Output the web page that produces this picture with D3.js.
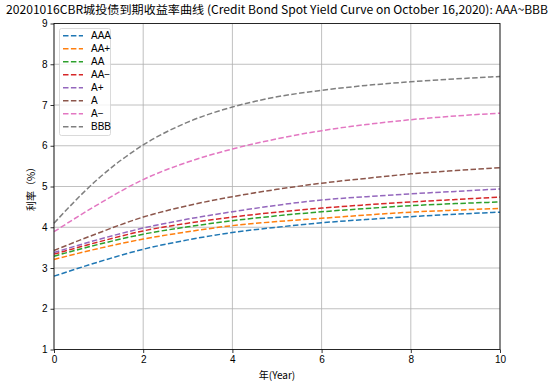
<!DOCTYPE html>
<html>
<head>
<meta charset="utf-8">
<script src="https://cdn.jsdelivr.net/npm/d3@7"></script>
<style>
body {margin: 0; background: #fff;}
</style>
</head>
<body>
<svg id="chart" width="554" height="385"></svg>
<script>
/*** Data ***/
var years = [0, 1, 2, 3, 4, 5, 6, 7, 8, 9, 10]
var ratings = ["AAA", "AA+", "AA", "AA-", "A+", "A", "A-", "BBB"]
var AAA  = [2.80, 3.15, 3.46, 3.69, 3.87, 4.00, 4.11, 4.19, 4.26, 4.32, 4.37]
var AAp  = [3.21, 3.48, 3.71, 3.89, 4.04, 4.14, 4.22, 4.30, 4.37, 4.42, 4.46]
var AA   = [3.29, 3.58, 3.83, 4.01, 4.16, 4.28, 4.38, 4.46, 4.53, 4.58, 4.62]
var AAm  = [3.34, 3.64, 3.91, 4.10, 4.25, 4.37, 4.47, 4.55, 4.62, 4.68, 4.74]
var Ap   = [3.38, 3.70, 3.98, 4.20, 4.38, 4.54, 4.67, 4.75, 4.82, 4.88, 4.94]
var A    = [3.43, 3.86, 4.25, 4.53, 4.75, 4.93, 5.08, 5.20, 5.31, 5.39, 5.46]
var Am   = [3.89, 4.57, 5.17, 5.60, 5.92, 6.17, 6.37, 6.52, 6.64, 6.73, 6.80]
var BBB  = [4.10, 5.20, 6.02, 6.58, 6.95, 7.20, 7.36, 7.48, 7.57, 7.64, 7.70]
var series = [AAA, AAp, AA, AAm, Ap, A, Am, BBB]
var xTicks = [0, 2, 4, 6, 8, 10]
var yTicks = [1, 2, 3, 4, 5, 6, 7, 8, 9]
var colors = ["#1f77b4", "#ff7f0e", "#2ca02c", "#d62728", "#9467bd", "#8c564b", "#e377c2", "#7f7f7f"]

var title = "20201016CBR城投债到期收益率曲线 (Credit Bond Spot Yield Curve on October 16,2020): AAA~BBB"

var cjk = "'Noto Sans CJK SC', sans-serif"
var lat = "'Liberation Sans', sans-serif"

/*** Draw ***/
var svg = d3.select("#chart")
var m = {l: 54, r: 500, t: 23.5, b: 349.5}

var x = d3.scaleLinear().domain([0, 10]).range([m.l, m.r])
var y = d3.scaleLinear().domain([1, 9]).range([m.b, m.t])

// grid
var g = svg.append("g")
g.selectAll(".vg").data(xTicks).enter().append("line")
 .attr("x1", d => x(d)).attr("x2", d => x(d))
 .attr("y1", m.t).attr("y2", m.b)
 .attr("stroke", "#b0b0b0").attr("stroke-width", 0.8)
g.selectAll(".hg").data(yTicks).enter().append("line")
 .attr("x1", m.l).attr("x2", m.r)
 .attr("y1", d => y(d)).attr("y2", d => y(d))
 .attr("stroke", "#b0b0b0").attr("stroke-width", 0.8)

// curves
var line = d3.line()
             .x((d, i) => x(years[i]))
             .y(d => y(d))
             .curve(d3.curveMonotoneX)
svg.append("g").selectAll("path").data(series).enter().append("path")
   .attr("d", d => line(d))
   .attr("fill", "none")
   .attr("stroke", (d, i) => colors[i])
   .attr("stroke-width", 1.5)
   .attr("stroke-dasharray", "5.5,2.4")

// axes
var xa = svg.append("g").attr("transform", "translate(0," + m.b + ")")
            .call(d3.axisBottom(x).tickValues(xTicks).tickSize(3.5).tickPadding(3))
var ya = svg.append("g").attr("transform", "translate(" + m.l + ",0)")
            .call(d3.axisLeft(y).tickValues(yTicks).tickSize(3.5).tickPadding(3))
xa.select(".domain").remove()
ya.select(".domain").remove()
svg.selectAll(".tick text").style("font-size", "10px").style("font-family", lat).attr("fill", "#000")
svg.selectAll(".tick line").attr("stroke", "#000").attr("stroke-width", 0.8)

// frame
svg.append("rect")
   .attr("x", m.l).attr("y", m.t)
   .attr("width", m.r - m.l).attr("height", m.b - m.t)
   .attr("fill", "none").attr("stroke", "#000").attr("stroke-width", 0.8)

// labels
svg.append("text").text(title)
   .attr("x", 6).attr("y", 13.5)
   .style("font-family", cjk).style("font-size", "11.5px")
   .attr("textLength", 542).attr("lengthAdjust", "spacingAndGlyphs")
svg.append("text").text("年(Year)")
   .attr("x", (m.l + m.r) / 2).attr("y", 379)
   .attr("text-anchor", "middle")
   .style("font-family", cjk).style("font-size", "10px")
svg.append("text").text("利率（%）")
   .attr("transform", "translate(35," + ((m.t + m.b) / 2) + ") rotate(-90)")
   .attr("text-anchor", "middle")
   .style("font-family", cjk).style("font-size", "10px")

// legend
var lg = svg.append("g")
lg.append("rect")
  .attr("x", 59.5).attr("y", 28.5).attr("width", 51).attr("height", 107).attr("rx", 2)
  .attr("fill", "#fff").attr("fill-opacity", 0.8)
  .attr("stroke", "#d0d0d0").attr("stroke-width", 0.8)
var it = lg.selectAll(".it").data(ratings).enter().append("g")
           .attr("transform", (d, i) => "translate(0," + (35.7 + i * 13) + ")")
it.append("line")
  .attr("x1", 63).attr("x2", 83)
  .attr("stroke", (d, i) => colors[i]).attr("stroke-width", 1.5)
  .attr("stroke-dasharray", "5.5,2.4")
it.append("text").text(d => d.replace("-", "−"))
  .attr("x", 91).attr("y", 3.5)
  .style("font-family", lat).style("font-size", "10px")
</script>
</body>
</html>
